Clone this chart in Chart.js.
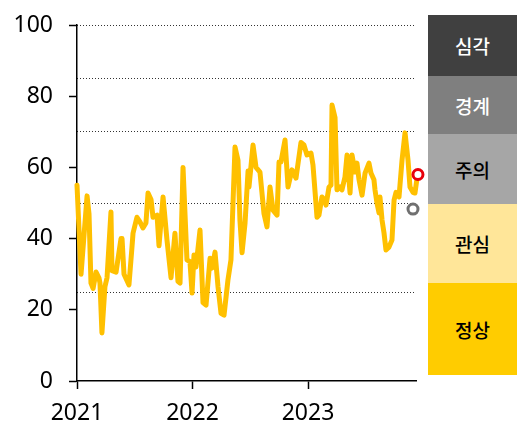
<!DOCTYPE html>
<html>
<head>
<meta charset="utf-8">
<script src="https://cdn.jsdelivr.net/npm/chart.js@4/dist/chart.umd.min.js"></script>
<style>
  html, body { margin: 0; padding: 0; background: #fff; }
  #wrap { position: relative; width: 531px; height: 437px; }
  #c { position: absolute; left: 0; top: 0; }
  .lvl { position: absolute; left: 428px; width: 89px; display: flex; align-items: center; justify-content: center;
         font-family: "Noto Sans CJK KR", sans-serif; font-size: 19px; font-weight: 500; }
</style>
</head>
<body>
<div id="wrap">
  <canvas id="c" width="531" height="437"></canvas>
  <div class="lvl" style="top:15px;height:61px;background:#404040;color:#fff;">심각</div>
  <div class="lvl" style="top:76px;height:58px;background:#7f7f7f;color:#fff;">경계</div>
  <div class="lvl" style="top:134px;height:70px;background:#a6a6a6;color:#000;">주의</div>
  <div class="lvl" style="top:204px;height:79px;background:#ffe699;color:#000;">관심</div>
  <div class="lvl" style="top:283px;height:92px;background:#ffcc00;color:#000;">정상</div>
</div>
<script>
// ---- data (decimal year, index value) ----
const dates = [
  2021.000, 2021.035, 2021.087, 2021.104, 2021.121, 2021.139, 2021.165, 2021.190, 2021.199, 2021.216,
  2021.242, 2021.260, 2021.294, 2021.303, 2021.338, 2021.381, 2021.390, 2021.407, 2021.450, 2021.476,
  2021.485, 2021.519, 2021.545, 2021.571, 2021.597, 2021.615, 2021.641, 2021.658, 2021.693, 2021.710,
  2021.745, 2021.779, 2021.814, 2021.848, 2021.874, 2021.892, 2021.918, 2021.952, 2021.978, 2021.996,
  2022.013, 2022.030, 2022.065, 2022.091, 2022.117, 2022.152, 2022.169, 2022.195, 2022.221, 2022.247,
  2022.273, 2022.307, 2022.333, 2022.368, 2022.394, 2022.411, 2022.429, 2022.455, 2022.481, 2022.489,
  2022.524, 2022.550, 2022.584, 2022.619, 2022.645, 2022.671, 2022.697, 2022.732, 2022.749, 2022.766,
  2022.801, 2022.827, 2022.861, 2022.896, 2022.939, 2022.965, 2022.991, 2023.026, 2023.043, 2023.078,
  2023.095, 2023.121, 2023.147, 2023.156, 2023.182, 2023.199, 2023.208, 2023.234, 2023.251, 2023.277,
  2023.294, 2023.320, 2023.338, 2023.364, 2023.381, 2023.407, 2023.424, 2023.442, 2023.468, 2023.494,
  2023.528, 2023.545, 2023.571, 2023.580, 2023.597, 2023.615, 2023.623, 2023.641, 2023.658, 2023.675,
  2023.701, 2023.727, 2023.745, 2023.762, 2023.788, 2023.814, 2023.840, 2023.866, 2023.883, 2023.909,
  2023.926, 2023.944
];
const values = [
  55, 30, 52, 47, 27.5, 26, 30.6, 29, 27.5, 13.5,
  26.5, 29, 47.5, 31, 30.6, 40, 40, 30, 27, 37.6,
  41.5, 46, 44.7, 43, 44.4, 52.8, 51, 46, 46.6, 38,
  51.7, 39.6, 29, 41.5, 28, 27.5, 60, 34, 33.5, 24.7,
  35.4, 32, 42.4, 22, 21.3, 34.5, 31.7, 36.2, 26.4, 19,
  18.5, 28.4, 34, 65.7, 62, 45, 36, 44.4, 59, 54.5,
  66.3, 60, 58.7, 47, 43.3, 54.5, 48, 46.6, 61.5, 61.5,
  67.7, 54.5, 59.3, 57, 67, 66.3, 63.5, 64, 60.7, 46,
  46.6, 51.7, 50.8, 49.4, 54.5, 55, 77.5, 74, 53.7, 54.5,
  53.7, 57.3, 63.5, 52.8, 63.5, 58.7, 61.2, 56.5, 52.2, 58.4,
  61.2, 58.4, 56.5, 53.7, 50, 47.2, 51.7, 45.2, 41.6, 36.8,
  37.6, 39.6, 50.8, 53, 51.7, 62, 69.7, 62, 54.5, 53,
  52.8, 57
];
const prevDate = [2023.909];
const prevValue = [48.3];
const currDate = [2023.952];
const currValue = [58];

const yTicks = [0, 20, 40, 60, 80, 100];
const thresholds = [25, 50, 70, 85, 100];
const xTicks = [2021, 2022, 2023];
const xMin = 2021, xMax = 2023.935;

const FONT = '"Noto Sans", "DejaVu Sans", sans-serif';

const pts = (xs, ys) => xs.map((x, i) => ({ x: x, y: ys[i] }));

new Chart(document.getElementById('c'), {
  type: 'line',
  data: {
    datasets: [
      {
        data: pts(currDate, currValue), showLine: false, order: 0, clip: false,
        pointRadius: 5, pointBorderWidth: 3, pointBorderColor: '#e8000b', pointBackgroundColor: '#fff'
      },
      {
        data: pts(prevDate, prevValue), showLine: false, order: 0, clip: false,
        pointRadius: 5, pointBorderWidth: 3, pointBorderColor: '#707070', pointBackgroundColor: '#fff'
      },
      {
        data: pts(dates, values), order: 1, clip: false,
        borderColor: '#ffc000', borderWidth: 5, pointRadius: 0, tension: 0,
        borderJoinStyle: 'round', borderCapStyle: 'round'
      }
    ]
  },
  options: {
    responsive: false,
    animation: false,
    devicePixelRatio: 1,
    layout: { padding: { left: 0, right: 115, top: 25, bottom: 0 } },
    plugins: { legend: { display: false }, tooltip: { enabled: false } },
    scales: {
      x: {
        type: 'linear', min: xMin, max: xMax,
        afterBuildTicks: (ax) => { ax.ticks = xTicks.map(v => ({ value: v })); },
        afterFit: (s) => { s.height = 56; },
        ticks: { color: '#000', font: { family: FONT, size: 23 }, padding: 11, callback: (v) => String(v), maxRotation: 0 },
        grid: { drawOnChartArea: false, drawTicks: true, tickLength: 8, tickColor: '#000', tickWidth: 1.5 },
        border: { display: true, color: '#000', width: 1.5 }
      },
      y: {
        type: 'linear', min: 0, max: 100, position: 'left',
        afterBuildTicks: (ax) => { ax.ticks = yTicks.map(v => ({ value: v })); },
        afterFit: (s) => { s.width = 77; s.paddingTop = 0; s.paddingBottom = 0; },
        ticks: { color: '#000', font: { family: FONT, size: 23 }, padding: 16 },
        grid: { drawOnChartArea: false, drawTicks: true, tickLength: 8, tickColor: '#000', tickWidth: 1.5 },
        border: { display: true, color: '#000', width: 1.5 }
      },
      yg: {
        type: 'linear', min: 0, max: 100, position: 'right',
        afterBuildTicks: (ax) => { ax.ticks = thresholds.map(v => ({ value: v })); },
        afterFit: (s) => { s.width = 0; s.paddingTop = 0; s.paddingBottom = 0; },
        ticks: { display: false },
        grid: { drawOnChartArea: true, drawTicks: false, color: '#333', lineWidth: 1 },
        border: { display: false, dash: [1, 2] }
      }
    }
  }
});
</script>
</body>
</html>
